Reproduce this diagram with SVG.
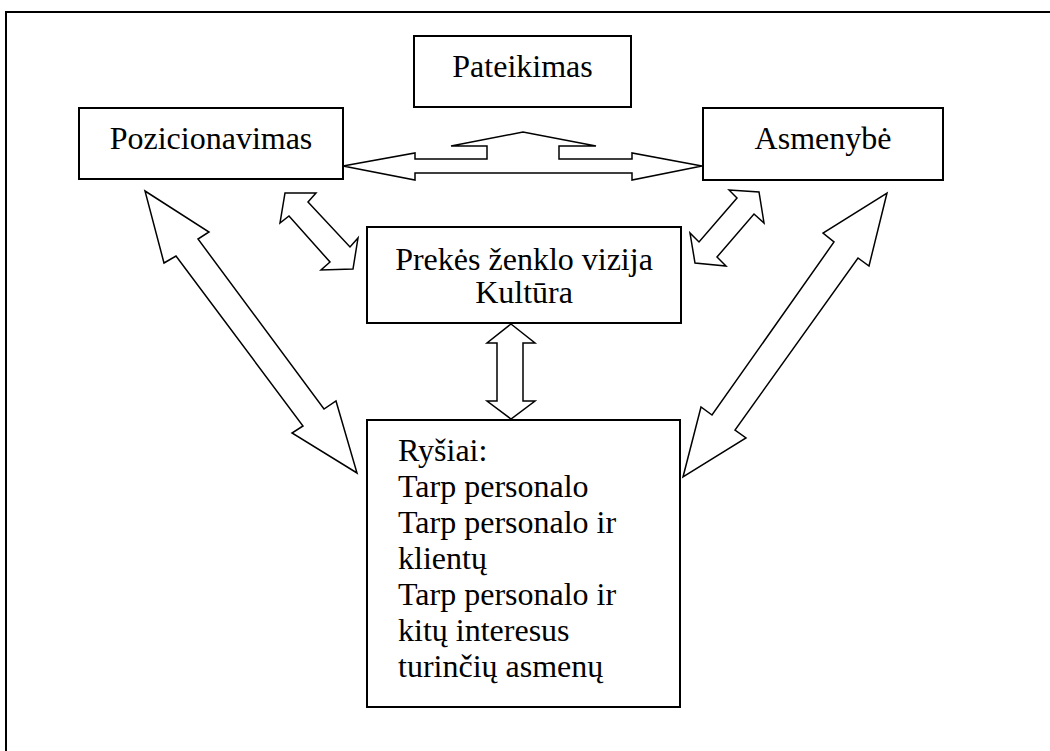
<svg xmlns="http://www.w3.org/2000/svg" width="1050" height="751" viewBox="0 0 1050 751">
<style>
.box{fill:#fff;stroke:#000;stroke-width:2}
.arr{fill:#fff;stroke:#000;stroke-width:1.5;stroke-linejoin:miter}
.t{font-family:"Liberation Serif","Times New Roman",serif;font-size:32px;fill:#000}
.c{text-anchor:middle}
</style>
<rect width="1050" height="751" fill="#fff"/>
<rect x="6" y="12" width="1100" height="800" fill="none" stroke="#000" stroke-width="2"/>
<g id="connectors">
<polygon class="arr" points="343,166 415,153 415,159 487,159 487,146 451,146 523,132 596,146 559,146 559,159 632,159 632,153 702,166 632,180 632,173 415,173 415,180"/>
<polygon class="arr" points="511,324 535,343 523,343 523,401 535,401 511,419 487,401 497,401 497,343 487,343"/>
<polygon class="arr" points="145,191 209,232 198,239 324,409 336,401 357,473 292,433 303,426 176,256 164,263"/>
<polygon class="arr" points="285,193 316,193 308,202 350,247 358,238 353,269 321,270 330,262 289,216 280,223"/>
<polygon class="arr" points="729,190 759,192 764,223 754,214 717,257 726,266 695,263 690,233 699,242 737,198"/>
<polygon class="arr" points="887,193 869,266 858,258 735,430 746,438 683,477 701,407 712,415 834,242 823,233"/>
</g>
<g id="pateikimas">
<rect class="box" x="414" y="36" width="217" height="71"/>
<text class="t c" x="522.5" y="77">Pateikimas</text>
</g>
<g id="pozicionavimas">
<rect class="box" x="79" y="108" width="264" height="71"/>
<text class="t c" x="211" y="149">Pozicionavimas</text>
</g>
<g id="asmenybe">
<rect class="box" x="703" y="108" width="240" height="72"/>
<text class="t c" x="823" y="149">Asmenybė</text>
</g>
<g id="vizija">
<rect class="box" x="367" y="227" width="314" height="96"/>
<text class="t c" x="524" y="270">Prekės ženklo vizija</text>
<text class="t c" x="524" y="303">Kultūra</text>
</g>
<g id="rysiai">
<rect class="box" x="367" y="420" width="313" height="287"/>
<text class="t" x="398" y="461">Ryšiai:</text>
<text class="t" x="398" y="497">Tarp personalo</text>
<text class="t" x="398" y="533">Tarp personalo ir</text>
<text class="t" x="398" y="569">klientų</text>
<text class="t" x="398" y="605">Tarp personalo ir</text>
<text class="t" x="398" y="641">kitų interesus</text>
<text class="t" x="398" y="677">turinčių asmenų</text>
</g>
</svg>
